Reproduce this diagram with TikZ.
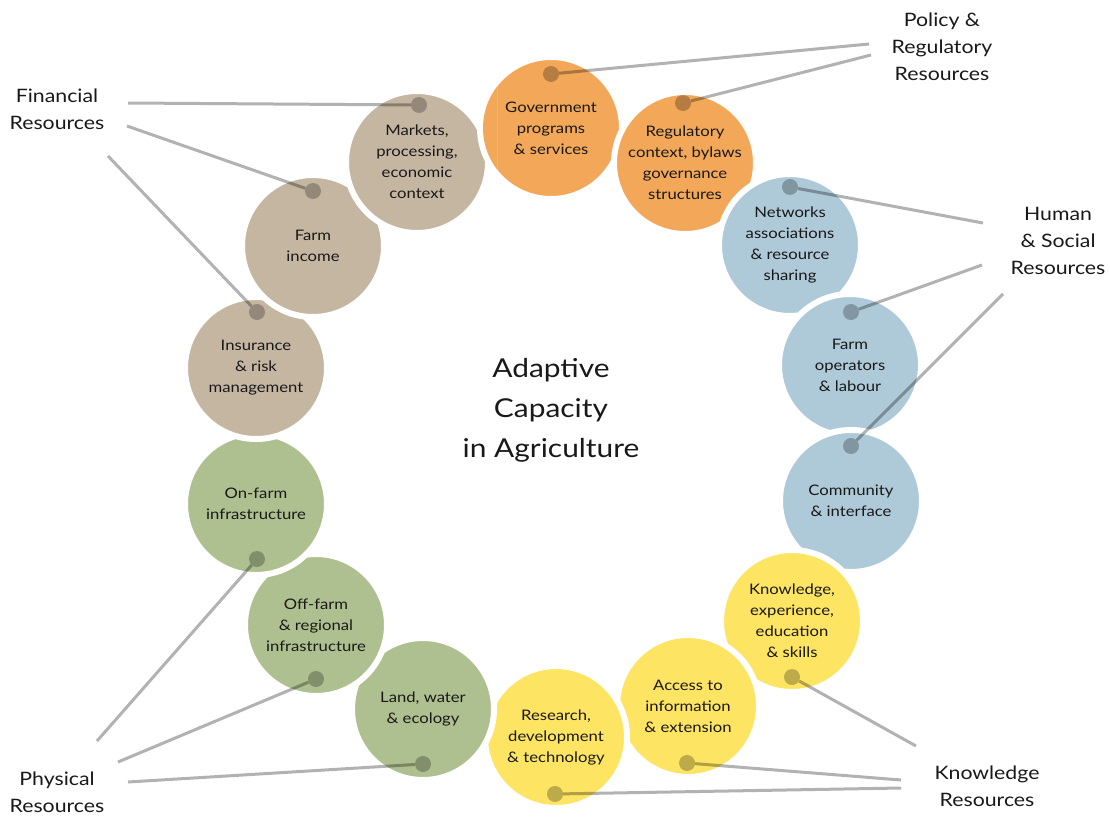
\documentclass[tikz,border=0pt]{standalone}
\usepackage{fontspec}
\setmainfont{Lato}[FakeStretch=1.15]
\definecolor{tanres}{RGB}{197,182,162}
\definecolor{orangeres}{RGB}{242,168,88}
\definecolor{blueres}{RGB}{174,201,216}
\definecolor{yellowres}{RGB}{253,228,98}
\definecolor{greenres}{RGB}{174,192,143}

\begin{document}
\begin{tikzpicture}[x=1pt,y=-1pt,
  res/.style={circle,fill=#1,draw=white,line width=6pt,minimum size=142pt,inner sep=0pt,
    align=center,text=black!90,font=\fontsize{14.5}{21}\selectfont},
  dot/.style={circle,fill=black,fill opacity=0.25,minimum size=16pt,inner sep=0pt},
  lbl/.style={align=center,text=black!90,font=\fontsize{18.5}{27}\selectfont},
  conn/.style={draw=black,opacity=0.3,line width=3pt}]
\useasboundingbox (0,0) rectangle (1110,816);
%================================================================
%	Circles, each one over the one before it
\node[res=orangeres] (gov) at (551,128) {Government\\programs\\\& services};
\node[res=orangeres] (reg) at (685,163) {Regulatory\\context, bylaws\\governance\\structures};
\node[res=blueres] (net) at (790,245) {Networks\\associations\\\& resource\\sharing};
\node[res=blueres] (ops) at (850,365) {Farm\\operators\\\& labour};
\node[res=blueres] (com) at (851,501) {Community\\\& interface};
\node[res=yellowres] (kno) at (792,621) {Knowledge,\\experience,\\education\\\& skills};
\node[res=yellowres] (acc) at (688,706) {Access to\\information\\\& extension};
\node[res=yellowres] (rd) at (556,737) {Research,\\development\\\& technology};
\node[res=greenres] (land) at (423,709) {Land, water\\\& ecology};
\node[res=greenres] (off) at (316,625) {Off-farm\\\& regional\\infrastructure};
\node[res=greenres] (on) at (256,504) {On-farm\\infrastructure};
\node[res=tanres] (ins) at (256,368) {Insurance\\\& risk\\management};
\node[res=tanres] (inc) at (313,246) {Farm\\income};
\node[res=tanres] (mkt) at (417,162) {Markets,\\processing,\\economic\\context};
%----------------------------------------------------------------
%	close the ring: government back over markets
\begin{scope}
\clip (470,40) rectangle (497,220);
\fill[white] (gov.center) circle (74);
\fill[orangeres] (gov.center) circle (68);
\end{scope}
%----------------------------------------------------------------
\node[align=center,text=black!90,font=\fontsize{26}{40}\selectfont] (title) at (551,410) {Adaptive\\Capacity\\in Agriculture};
%================================================================
%	Outside
\node[lbl] (fin) at (57,109) {Financial\\Resources};
\node[lbl] (pol) at (942,47) {Policy \&\\Regulatory\\Resources};
\node[lbl] (hum) at (1058,241) {Human\\\& Social\\Resources};
\node[lbl] (know) at (987,786) {Knowledge\\Resources};
\node[lbl] (phy) at (57,792) {Physical\\Resources};
%----------------------------------------------------------------
\coordinate (fin-1) at (128,103);
\coordinate (fin-2) at (127,126);
\coordinate (fin-3) at (108,156);
\coordinate (pol-1) at (869,44);
\coordinate (pol-2) at (871,55);
\coordinate (hum-1) at (983,223);
\coordinate (hum-2) at (982,265);
\coordinate (hum-3) at (1003,294);
\coordinate (know-1) at (916,746);
\coordinate (know-2) at (901,780);
\coordinate (know-3) at (901,788);
\coordinate (phy-1) at (97,741);
\coordinate (phy-2) at (118,762);
\coordinate (phy-3) at (128,782);
%----------------------------------------------------------------
\node[dot] (gov-d) at (551,74) {};
\node[dot] (reg-d) at (683,103) {};
\node[dot] (mkt-d) at (419,105) {};
\node[dot] (inc-d) at (313,191) {};
\node[dot] (ins-d) at (257,312) {};
\node[dot] (on-d) at (257,559) {};
\node[dot] (off-d) at (316,679) {};
\node[dot] (land-d) at (423,764) {};
\node[dot] (rd-d) at (555,794) {};
\node[dot] (acc-d) at (687,763) {};
\node[dot] (kno-d) at (792,677) {};
\node[dot] (com-d) at (851,446) {};
\node[dot] (ops-d) at (851,312) {};
\node[dot] (net-d) at (790,187) {};
%----------------------------------------------------------------
\draw[conn] (fin-1) -- (mkt-d);
\draw[conn] (fin-2) -- (inc-d);
\draw[conn] (fin-3) -- (ins-d);
\draw[conn] (pol-1) -- (gov-d);
\draw[conn] (pol-2) -- (reg-d);
\draw[conn] (hum-1) -- (net-d);
\draw[conn] (hum-2) -- (ops-d);
\draw[conn] (hum-3) -- (com-d);
\draw[conn] (know-1) -- (kno-d);
\draw[conn] (know-2) -- (acc-d);
\draw[conn] (know-3) -- (rd-d);
\draw[conn] (phy-1) -- (on-d);
\draw[conn] (phy-2) -- (off-d);
\draw[conn] (phy-3) -- (land-d);
%================================================================
\end{tikzpicture}
\end{document}
